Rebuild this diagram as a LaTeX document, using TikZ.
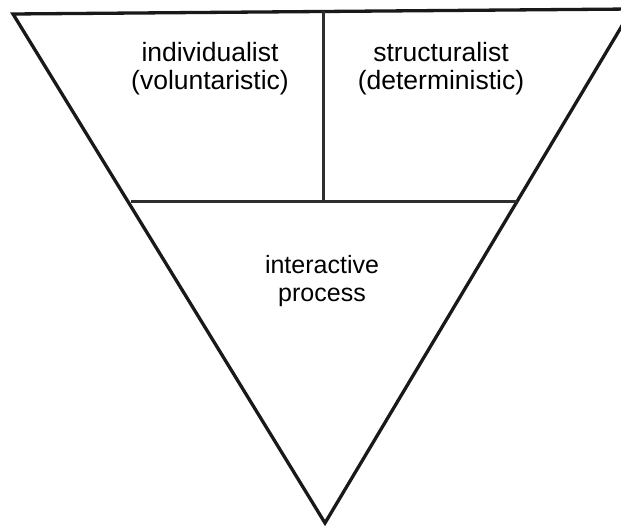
\documentclass[tikz,border=0pt]{standalone}
\usepackage{fontspec}
\setmainfont{Liberation Sans}
\begin{document}
\begin{tikzpicture}[x=1pt,y=-1pt,
  edge/.style={draw=black!90,line width=3.3pt,line join=miter},
  divider/.style={draw=black!82,line width=3pt},
  label/.style={font=\fontsize{26.5}{28}\selectfont,align=center,text=black,inner sep=0pt}]
  \useasboundingbox (0,0) rectangle (621,526);
  \clip (0,0) rectangle (621,526);
  % outer inverted triangle (right corner runs past the frame)
  \coordinate (tl) at (13,14);
  \coordinate (tr) at (632,9);
  \coordinate (apex) at (325,523);
  \coordinate (ml) at (131,202);
  \coordinate (mr) at (517,202);
  \coordinate (tm) at (323,11.5);
  \coordinate (bm) at (323,202);
  \draw[edge] (tr) -- (tl) -- (apex) -- cycle;
  % inner dividers
  \draw[divider] (ml) -- (mr);
  \draw[divider] (tm) -- (bm);
  % labels
  \node[label,anchor=base] (ind) at (210,90) {individualist\\(voluntaristic)};
  \node[label,anchor=base] (str) at (441,90) {structuralist\\(deterministic)};
  \node[label,anchor=base,font=\fontsize{25}{28}\selectfont] (int) at (322,302) {interactive\\process};
\end{tikzpicture}
\end{document}
